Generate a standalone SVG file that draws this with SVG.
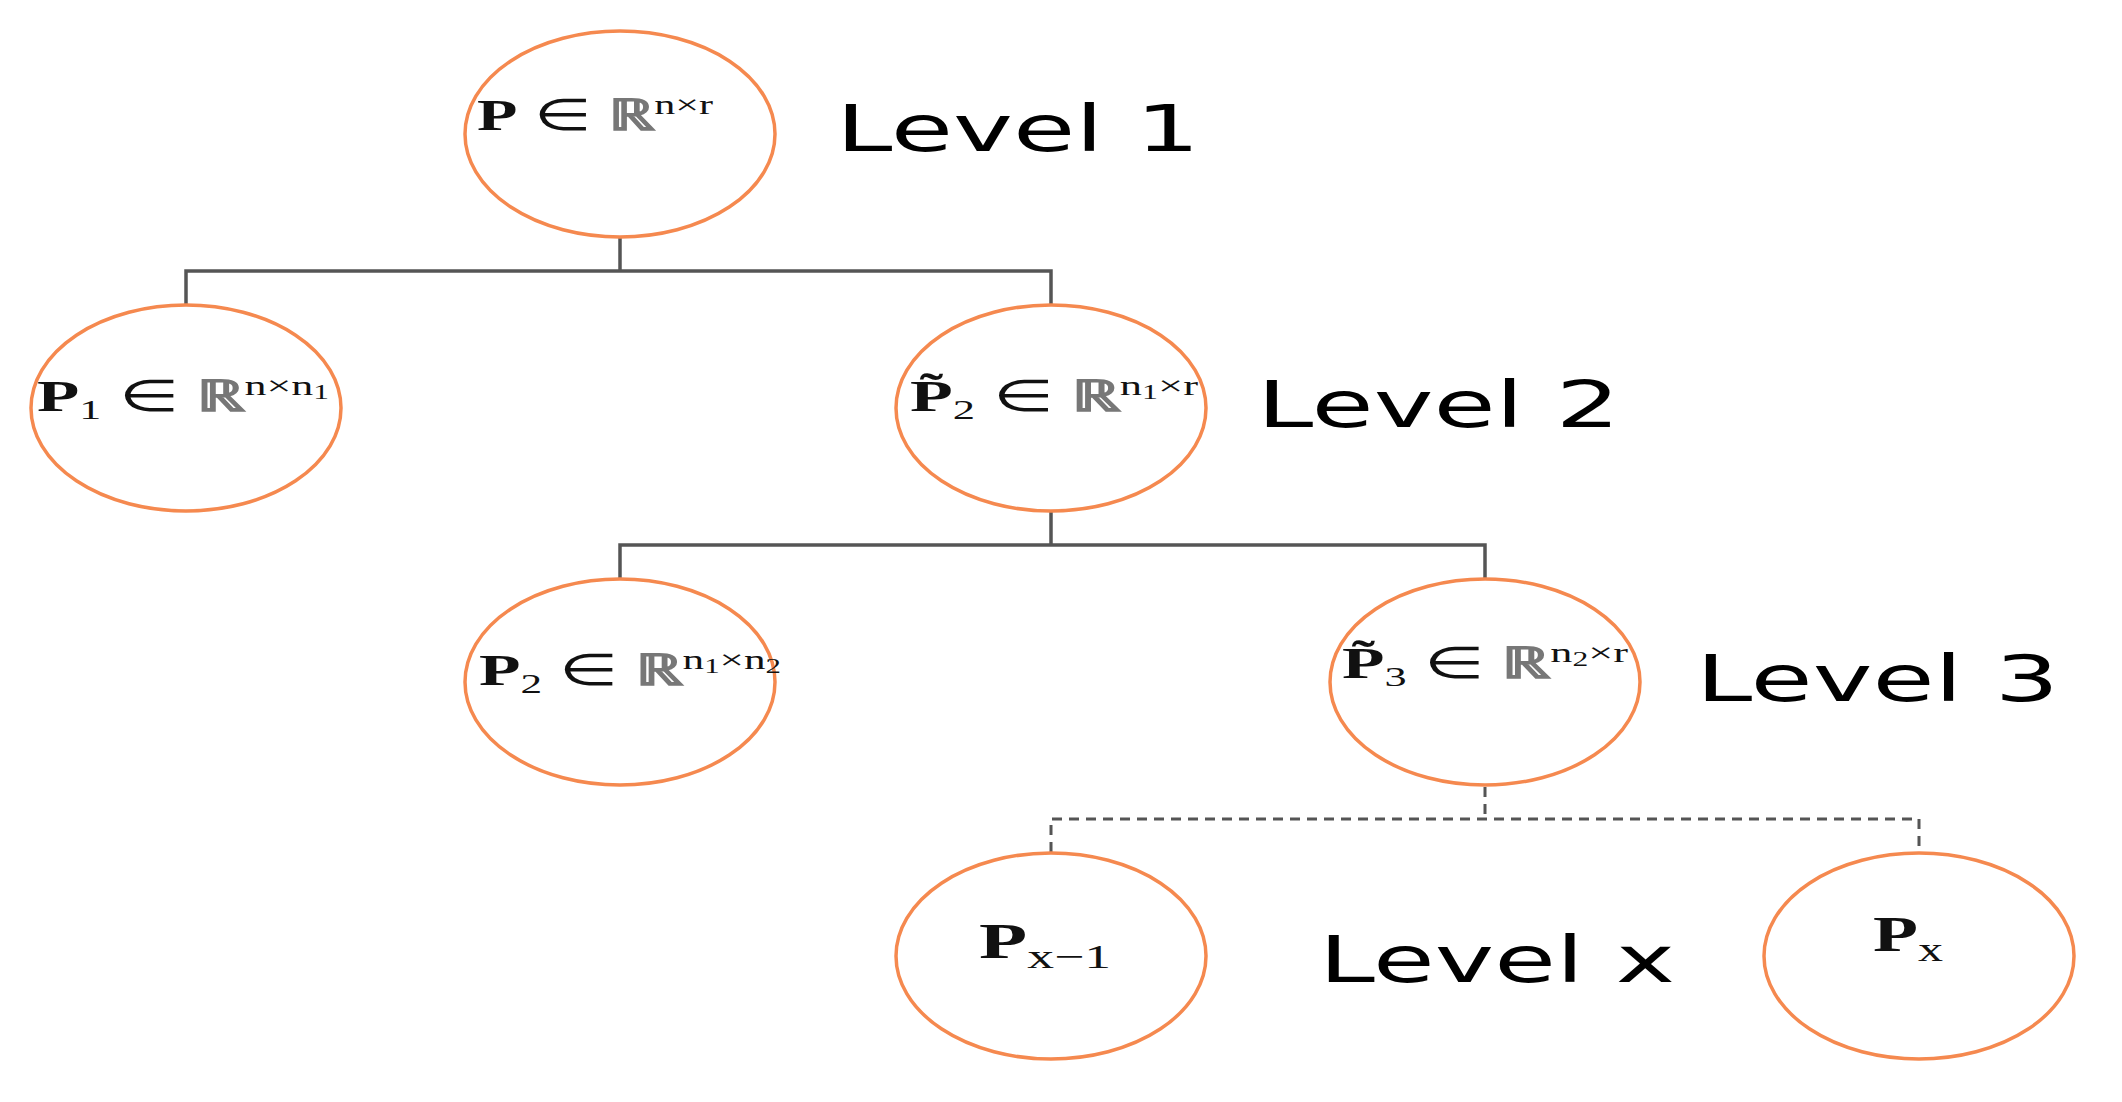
<svg xmlns="http://www.w3.org/2000/svg" width="2122" height="1102" viewBox="0 0 2122 1102">
<style>
.n{fill:#fff;stroke:#f5894f;stroke-width:3.5}
.c{fill:none;stroke:#555;stroke-width:3.5}
.d{fill:none;stroke:#555;stroke-width:3;stroke-dasharray:10 7}
.lv{font-family:"DejaVu Sans",sans-serif;font-size:64px;fill:#000}
.m{font-family:"Liberation Serif",serif;font-size:44px;fill:#111}
.b{font-weight:bold}
.g{fill:#777;font-weight:bold}
.s{font-size:28px}
.t{font-size:20px}
</style>
<rect width="2122" height="1102" fill="#fff"/>
<g id="connectors">
<path class="c" d="M620 238V271M186 304V271H1051V304"/>
<path class="c" d="M1051 512V545M620 578V545H1485V578"/>
<path class="d" d="M1485 787V819M1051 852V819H1919V852"/>
</g>
<g id="root"><ellipse class="n" cx="620" cy="134" rx="155" ry="103"/>
<text class="m" x="477" y="130" textLength="236" lengthAdjust="spacingAndGlyphs"><tspan class="b">P</tspan> ∈ <tspan class="g">ℝ</tspan><tspan class="s" dy="-16">n×r</tspan></text></g>
<g id="p1"><ellipse class="n" cx="186" cy="408" rx="155" ry="103"/>
<text class="m" x="37" y="411" textLength="292" lengthAdjust="spacingAndGlyphs"><tspan class="b">P</tspan><tspan class="s" dy="8">1</tspan><tspan dy="-8"> ∈ </tspan><tspan class="g">ℝ</tspan><tspan class="s" dy="-16">n×n</tspan><tspan class="t" dy="4">1</tspan></text></g>
<g id="p2t"><ellipse class="n" cx="1051" cy="408" rx="155" ry="103"/>
<text class="m" x="910" y="411" textLength="288" lengthAdjust="spacingAndGlyphs"><tspan class="b">P̃</tspan><tspan class="s" dy="8">2</tspan><tspan dy="-8"> ∈ </tspan><tspan class="g">ℝ</tspan><tspan class="s" dy="-16">n</tspan><tspan class="t" dy="4">1</tspan><tspan class="s" dy="-4">×r</tspan></text></g>
<g id="p2"><ellipse class="n" cx="620" cy="682" rx="155" ry="103"/>
<text class="m" x="479" y="685" textLength="302" lengthAdjust="spacingAndGlyphs"><tspan class="b">P</tspan><tspan class="s" dy="8">2</tspan><tspan dy="-8"> ∈ </tspan><tspan class="g">ℝ</tspan><tspan class="s" dy="-16">n</tspan><tspan class="t" dy="4">1</tspan><tspan class="s" dy="-4">×n</tspan><tspan class="t" dy="4">2</tspan></text></g>
<g id="p3t"><ellipse class="n" cx="1485" cy="682" rx="155" ry="103"/>
<text class="m" x="1342" y="678" textLength="286" lengthAdjust="spacingAndGlyphs"><tspan class="b">P̃</tspan><tspan class="s" dy="8">3</tspan><tspan dy="-8"> ∈ </tspan><tspan class="g">ℝ</tspan><tspan class="s" dy="-16">n</tspan><tspan class="t" dy="4">2</tspan><tspan class="s" dy="-4">×r</tspan></text></g>
<g id="px1"><ellipse class="n" cx="1051" cy="956" rx="155" ry="103"/>
<text class="m" x="979" y="958" style="font-size:50px" textLength="132" lengthAdjust="spacingAndGlyphs"><tspan class="b">P</tspan><tspan style="font-size:34px" dy="10">x−1</tspan></text></g>
<g id="px"><ellipse class="n" cx="1919" cy="956" rx="155" ry="103"/>
<text class="m" x="1873" y="951" style="font-size:50px" textLength="70" lengthAdjust="spacingAndGlyphs"><tspan class="b">P</tspan><tspan style="font-size:34px" dy="10">x</tspan></text></g>
<g id="labels">
<text class="lv" x="836" y="151" textLength="364" lengthAdjust="spacingAndGlyphs">Level 1</text>
<text class="lv" x="1257" y="427" textLength="363" lengthAdjust="spacingAndGlyphs">Level 2</text>
<text class="lv" x="1696" y="701" textLength="363" lengthAdjust="spacingAndGlyphs">Level 3</text>
<text class="lv" x="1319" y="982" textLength="356" lengthAdjust="spacingAndGlyphs">Level x</text>
</g>
</svg>
